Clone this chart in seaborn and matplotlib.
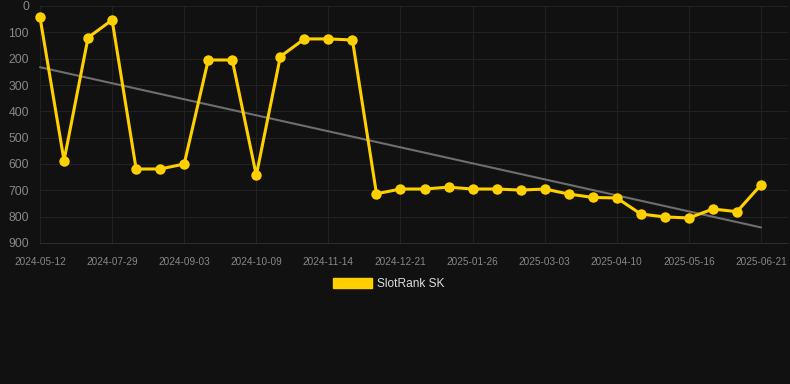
import matplotlib
matplotlib.use("Agg")
import matplotlib.pyplot as plt
from matplotlib.patches import Patch
import seaborn as sns
import numpy as np
import pandas as pd

# =========================
# Data
# =========================

tick_labels = [
    "2024-05-12", "2024-07-29", "2024-09-03", "2024-10-09",
    "2024-11-14", "2024-12-21", "2025-01-26", "2025-03-03",
    "2025-04-10", "2025-05-16", "2025-06-21"
]

rank = [
    43, 587, 120, 53, 619, 619, 600, 205, 205, 643,
    192, 125, 125, 129, 713, 695, 695, 688, 695, 695,
    699, 695, 714, 727, 729, 790, 801, 805, 771, 781,
    679
]

series_name = "SlotRank SK"

# =========================
# Style
# =========================

bg = "#111111"
yellow = "#FFD000"
grid_col = "#222222"
text_col = "#888888"

sns.set_style("dark")
plt.rcParams["font.family"] = ["Liberation Sans", "DejaVu Sans"]

df = pd.DataFrame({"idx": np.arange(len(rank)), "rank": rank})

fig = plt.figure(figsize=(7.9, 3.84), dpi=100, facecolor=bg)
ax = fig.add_axes([40 / 790, 1 - 243 / 384, 748 / 790, 237 / 384])
ax.set_facecolor(bg)

# =========================
# Trend line
# =========================

sns.regplot(
    data=df, x="idx", y="rank",
    scatter=False, ci=None, ax=ax,
    line_kws={"color": "#6e6e6e", "linewidth": 1.5, "zorder": 2}
)

# =========================
# Main line
# =========================

sns.lineplot(
    data=df, x="idx", y="rank", ax=ax,
    color=yellow, linewidth=2.2,
    marker="o", markersize=7.5, markeredgewidth=0,
    zorder=3
)
for line in ax.lines:
    line.set_clip_on(False)

# =========================
# Axes
# =========================

ax.set_xlim(0, len(rank) - 1 + 27 / 24.03)
ax.set_ylim(900, 0)
ax.set_yticks(range(0, 1000, 100))
ax.set_xticks(range(0, len(rank), 3))
ax.set_xticklabels(tick_labels)
ax.set_xlabel("")
ax.set_ylabel("")

ax.grid(True, color=grid_col, linewidth=0.8)
ax.tick_params(axis="y", colors=grid_col, labelcolor=text_col,
               labelsize=8.7, length=6, pad=2)
ax.tick_params(axis="x", colors=grid_col, labelcolor=text_col,
               labelsize=7.2, length=4, pad=6)

for side in ["top", "right", "left"]:
    ax.spines[side].set_visible(False)
ax.spines["bottom"].set_color("#2c2c2c")

# =========================
# Legend
# =========================

fig.legend(
    handles=[Patch(facecolor=yellow, edgecolor=yellow)],
    labels=[series_name],
    loc="center", bbox_to_anchor=(0.492, 1 - 284 / 384),
    frameon=False, fontsize=8.6, labelcolor="#dddddd",
    handlelength=3.3, handleheight=0.95, handletextpad=0.4
)

fig.savefig("out.png", dpi=100, facecolor=bg)
